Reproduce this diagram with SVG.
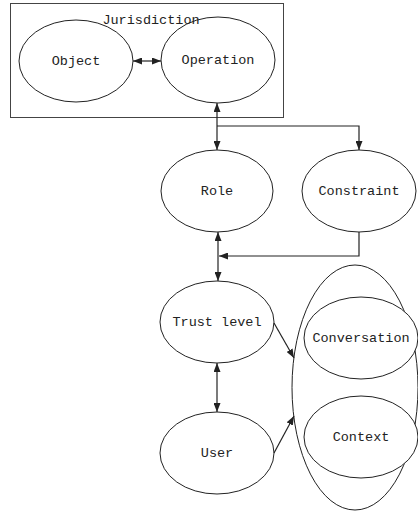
<svg xmlns="http://www.w3.org/2000/svg" width="418" height="514" viewBox="0 0 418 514">
<defs>
<marker id="ah" viewBox="0 0 10 10" refX="10" refY="5" markerWidth="9" markerHeight="7" markerUnits="userSpaceOnUse" orient="auto-start-reverse" preserveAspectRatio="none">
<path d="M0,0 L10,5 L0,10 z" fill="#222"/>
</marker>
</defs>
<style>
.n{fill:#fff;stroke:#222;stroke-width:1}
.t{font-family:"Liberation Mono",monospace;font-size:13.5px;fill:#222;text-anchor:middle}
.c{fill:none;stroke:#222;stroke-width:1.2}
</style>
<rect width="418" height="514" fill="#fff"/>
<g id="jurisdiction">
<rect x="10.5" y="3.5" width="273" height="114" fill="#fff" stroke="#444" stroke-width="1"/>
</g>
<g id="object"><ellipse class="n" cx="76" cy="61" rx="57" ry="41"/><text class="t" x="76" y="65">Object</text></g>
<g id="operation"><ellipse class="n" cx="218" cy="60" rx="57" ry="43"/><text class="t" x="218" y="64">Operation</text></g>
<g id="jurisdiction-label"><text class="t" x="151" y="24">Jurisdiction</text></g>
<g id="role"><ellipse class="n" cx="217" cy="191" rx="56" ry="41"/><text class="t" x="217" y="195">Role</text></g>
<g id="constraint"><ellipse class="n" cx="359" cy="191" rx="57" ry="41"/><text class="t" x="359" y="195">Constraint</text></g>
<g id="trust"><ellipse class="n" cx="217" cy="322" rx="57" ry="41"/><text class="t" x="217" y="326">Trust level</text></g>
<g id="user"><ellipse class="n" cx="217" cy="453" rx="57" ry="41"/><text class="t" x="217" y="457">User</text></g>
<g id="group"><ellipse class="n" cx="355" cy="387.5" rx="63" ry="122.5"/></g>
<g id="conversation"><ellipse class="n" cx="361" cy="338" rx="57" ry="41"/><text class="t" x="361" y="342">Conversation</text></g>
<g id="context"><ellipse class="n" cx="361" cy="437" rx="57" ry="41"/><text class="t" x="361" y="441">Context</text></g>
<g id="connectors">
<line class="c" x1="133" y1="61" x2="161" y2="61" marker-start="url(#ah)" marker-end="url(#ah)"/>
<line class="c" x1="217" y1="103" x2="217" y2="150" marker-start="url(#ah)" marker-end="url(#ah)" stroke-width="1.6"/>
<polyline class="c" points="217,126 359,126 359,150" marker-end="url(#ah)"/>
<line class="c" x1="218" y1="232" x2="218" y2="281" marker-start="url(#ah)" marker-end="url(#ah)"/>
<polyline class="c" points="359,232 359,256 219,256" marker-end="url(#ah)"/>
<line class="c" x1="217" y1="363" x2="217" y2="412" marker-start="url(#ah)" marker-end="url(#ah)"/>
<line class="c" x1="274" y1="323" x2="294" y2="358" marker-end="url(#ah)"/>
<line class="c" x1="274" y1="453" x2="294" y2="416" marker-end="url(#ah)"/>
</g>
</svg>
